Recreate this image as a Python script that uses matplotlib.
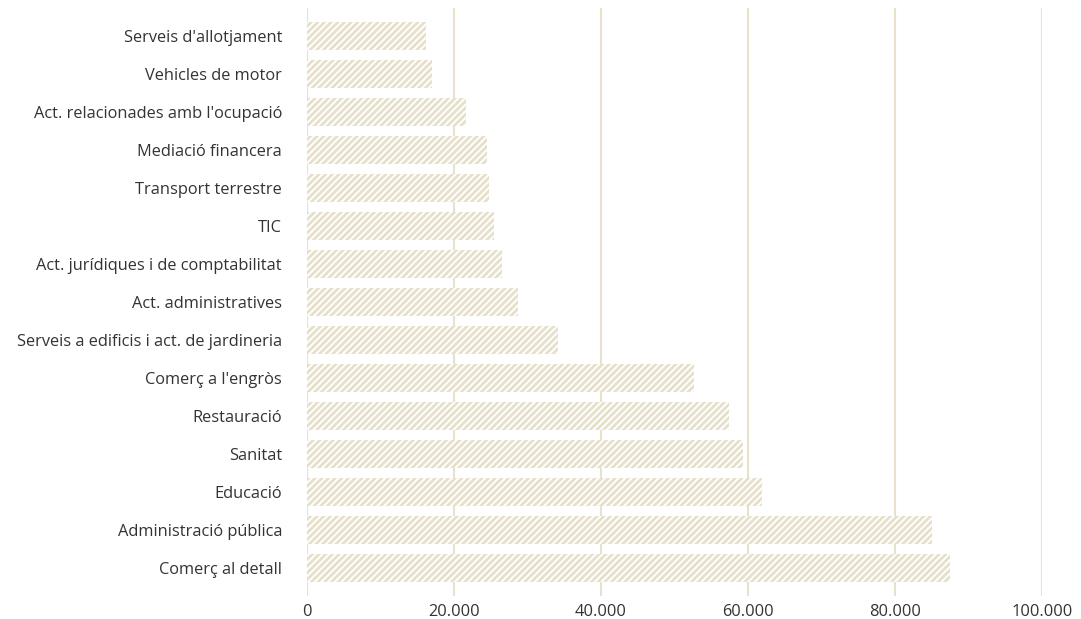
import matplotlib
matplotlib.use("Agg")
import matplotlib.pyplot as plt
import numpy as np

categories = [
    "Serveis d'allotjament",
    "Vehicles de motor",
    "Act. relacionades amb l'ocupació",
    "Mediació financera",
    "Transport terrestre",
    "TIC",
    "Act. jurídiques i de comptabilitat",
    "Act. administratives",
    "Serveis a edificis i act. de jardineria",
    "Comerç a l'engròs",
    "Restauració",
    "Sanitat",
    "Educació",
    "Administració pública",
    "Comerç al detall",
]
values = [16200, 17000, 21600, 24500, 24800, 25400, 26500, 28700, 34100,
          52700, 57400, 59300, 61900, 85000, 87500]
xticks = [0, 20000, 40000, 60000, 80000, 100000]
xtick_labels = ["0", "20.000", "40.000", "60.000", "80.000", "100.000"]

plt.rcParams['font.family'] = ['Open Sans', 'DejaVu Sans']
plt.rcParams['hatch.linewidth'] = 2.0
plt.rcParams['hatch.color'] = '#e6e0ca'

fig = plt.figure(figsize=(10.81, 6.19), dpi=100)
ax = fig.add_axes([307/1081, 1 - 596/619, (1042-307)/1081, 588/619])

y = np.arange(len(categories))
ax.barh(y, values, height=0.74, color='white', edgecolor='#e6e0ca',
        linewidth=0, hatch='/////', zorder=2)

ax.set_xlim(0, 100000)
ax.set_ylim(len(categories) - 1 + 0.74, -0.74)
ax.set_yticks(y)
ax.set_yticklabels(categories)
ax.set_xticks(xticks)
ax.set_xticklabels(xtick_labels)
ax.tick_params(axis='both', length=0, labelsize=11.8, colors='#333333')
ax.tick_params(axis='y', pad=18)
ax.tick_params(axis='x', pad=6)
for s in ax.spines.values():
    s.set_visible(False)
ax.grid(axis='x', color='#e8e2cd', linewidth=1.5, zorder=0)
ax.set_axisbelow(True)

fig.savefig("out.png", dpi=100)
